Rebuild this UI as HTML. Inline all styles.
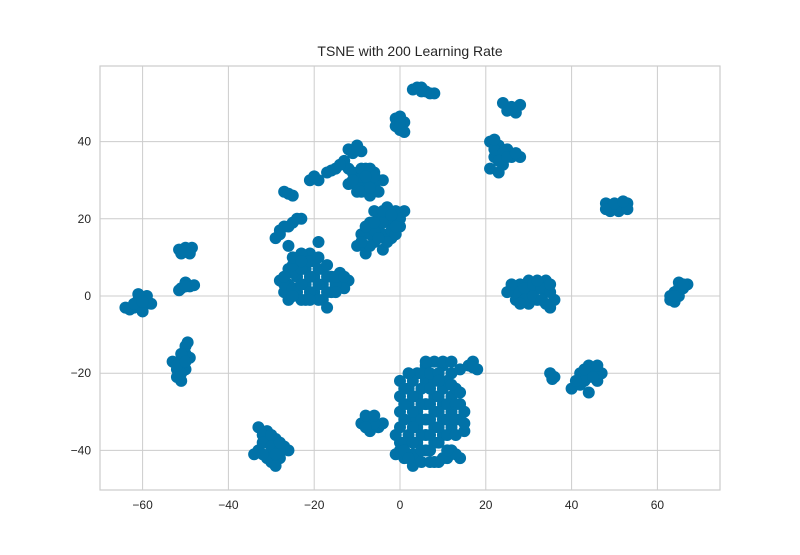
<!DOCTYPE html>
<html><head><meta charset="utf-8"><style>
body{margin:0;background:#fff}
svg text{font-family:"Liberation Sans",sans-serif;fill:#262626}
</style></head><body>
<svg width="800" height="550" xmlns="http://www.w3.org/2000/svg">
<rect width="800" height="550" fill="#fff"/>
<text x="410" y="56" font-size="14" text-anchor="middle">TSNE with 200 Learning Rate</text>
<g id="grid"></g>
<g id="pts"></g>
<rect x="100" y="66" width="620" height="424" fill="none" stroke="#ccc" stroke-width="1.2"/>
<g id="ticks"></g>
</svg>
<script>
const xTicks=[-60,-40,-20,0,20,40,60];
const yTicks=[-40,-20,0,20,40];
const points=[
[-64,-3],[-62,-3],[-60,-3],[-58,-2],[-61,-1],[-59,0],[-61,0.5],[-63,-3.5],[-60,-4],[-59,-1.5],[-62,-2],[-60,-1.5],
[-51,11],[-49,11],[-50,12.5],[-51.5,12],[-48.5,12.5],[-50,11.5],
[-51,2],[-49,2.5],[-50,3.5],[-48,2.8],[-51.5,1.5],[-50,2.5],
[-52,-21],[-52,-19],[-51,-17],[-50,-15],[-50,-13],[-49,-16],[-53,-17],[-51,-22],[-50,-19],[-49.5,-12],[-51,-20],[-51,-15],[-52,-18],[-50,-17],
[-33,-34],[-31,-35],[-29,-37],[-31,-38],[-33,-40],[-30,-41],[-28,-42],[-30,-43],[-27,-39],[-26,-40],[-34,-41],[-29,-44],[-32,-36],[-32,-38],[-30,-39],[-28,-40],[-31,-42],[-29,-41],[-32,-41],[-30,-36],[-28,-38],
[-28,4],[-27,1],[-26,-1],[-26,3],[-26,7],[-24,5],[-24,1],[-24,9],[-22,-1],[-22,3],[-22,7],[-20,1],[-20,5],[-20,9],[-18,-1],[-18,3],[-18,7],[-16,1],[-16,5],[-14,3],[-14,6],[-12,4],[-13,2],[-17,-3],[-21,11],[-23,11],[-19,14],
[-27,3],[-25,2],[-25,6],[-23,3],[-23,7],[-21,5],[-21,1],[-19,3],[-19,7],[-17,5],[-17,1],[-15,3],[-15,5],[-23,-1],[-19,-1],[-21,9],[-25,8],[-27,5],[-13,5],[-25,10],[-23,9],[-19,10],[-21,-1],[-25,0],[-15,1],[-17,8],
[-29,15],[-28,16],[-27,18],[-25,19],[-23,20],[-26,13],[-28,17],[-26,18],[-24,20],
[-27,27],[-25,26],[-21,30],[-19,30],[-17,32],[-15,33],[-13,35],[-12,33],[-26,26.5],[-20,31],[-16,32.5],[-14,34],
[-12,38],[-10,39],[-9,37.5],[-11,37],[-10,38],
[-12,29],[-10,31],[-8,33],[-6,32],[-8,29],[-6,28],[-4,30],[-10,27],[-7,26],[-11,32],
[-10,29],[-9,31],[-7,30],[-5,30],[-9,33],[-7,33],[-11,30],[-9,27],[-5,27],[-6,31],[-8,31],[-7,28],
[-10,13],[-9,16],[-7,19],[-5,21],[-3,23],[-1,22],[-2,19],[-4,16],[-6,14],[-8,11],[-2,15],[0,18],[-4,12],[1,22],[-1,21],
[-8,13],[-7,16],[-5,18],[-3,20],[-6,17],[-4,19],[-3,14],[-8,18],[-2,17],[-1,16],[-6,22],[-7,13],[-9,14],[0,20],[-3,22],[-5,15],[-4,22],[-1,18],[-2,21],[-6,19],
[-1,46],[1,45],[0,43],[1,42.5],[-1,44],[0,45],[0,46.5],
[3,53.5],[5,53],[7,52.5],[8,52.5],[4,54],[6,53],[5,54],
[-9,-33],[-7,-32],[-5,-34],[-7,-35],[-4,-33],[-8,-31],[-6,-33],[-8,-34],[-6,-31],
[0,-22],[0,-26],[0,-30],[0,-34],[0,-38],[0,-40],[1,-42],[3,-44],[2,-36],[2,-28],[2,-24],[4,-20],[4,-26],[4,-30],[4,-34],[4,-38],[4,-42],[6,-18],[6,-22],[6,-28],[6,-32],[6,-36],[6,-40],[8,-17],[8,-22],[8,-26],[8,-30],[8,-34],[8,-38],[8,-43],[10,-18],[10,-24],[10,-28],[10,-32],[10,-36],[10,-42],[12,-20],[12,-26],[12,-30],[12,-34],[12,-40],[14,-28],[14,-32],[14,-42],[15,-30],[-1,-36],[3,-32],
[1,-24],[1,-28],[1,-32],[1,-38],[3,-22],[3,-26],[3,-30],[3,-34],[3,-38],[3,-41],[5,-20],[5,-24],[5,-28],[5,-32],[5,-36],[5,-40],[7,-20],[7,-24],[7,-28],[7,-32],[7,-36],[7,-40],[9,-20],[9,-26],[9,-30],[9,-34],[9,-38],[11,-22],[11,-28],[11,-32],[11,-36],[13,-24],[13,-28],[13,-32],[13,-36],[11,-42],[9,-43],[5,-43],[13,-41],[2,-20],[6,-17],[10,-17],[12,-17],[14,-19],[15,-35],[14,-25],[-1,-41],[1,-40],[2,-42],[7,-43],[11,-40],[9,-22],[12,-23],[15,-33],
[16,-18],[17,-17],[18,-19],[17,-18.5],
[21,40],[23,39],[25,38],[22,36],[24,34],[26,36],[28,36],[21,33],[23,32],[22,38],[24,37],[23,35],[25,36],[22,40.5],[27,37],
[24,50],[26,49],[28,49.5],[25,48],[27,47.5],[26,48.5],
[26,2],[28,0],[28,3],[30,1],[30,4],[32,2],[32,-1],[34,1],[34,4],[36,-1],[35,-3],[30,-2],[27,-1],
[27,1],[29,2],[31,3],[33,2],[35,1],[29,-1],[31,0],[33,-1],[35,3],[25,1],[26,3],[28,-2],[32,4],[34,-2],
[36,-21],[35,-20],[40,-24],[42,-23],[44,-21],[45,-19],[46,-22],[44,-18],[42,-20],[44,-25],[47,-20],[43,-22],[45,-21],[41,-22],[46,-18],[43,-19],[35.5,-21.5],
[48,24],[50,23],[52,23],[53,24],[51,22],[49,22],[48,22.5],[53,22.5],[50,24],[52,24.5],
[63,-1],[64,1],[66,2],[67,3],[65,3.5],[64,-1.5],[63,0],[65,0],[65,2],[66,3],[64,0]
];
const NS="http://www.w3.org/2000/svg";
function sx(v){return 400+v*4.29;}
function sy(v){return 296-v*3.86;}
const grid=document.getElementById('grid'),ticks=document.getElementById('ticks'),pts=document.getElementById('pts');
xTicks.forEach(t=>{
 const l=document.createElementNS(NS,'line');
 
 
 l.setAttribute('x1',sx(t));l.setAttribute('x2',sx(t));l.setAttribute('y1',66);l.setAttribute('y2',490);
 l.setAttribute('stroke','#ccc');grid.appendChild(l);
 const tx=document.createElementNS(NS,'text');
 
 
 tx.setAttribute('x',sx(t));tx.setAttribute('y',509);tx.setAttribute('font-size','12');tx.setAttribute('text-anchor','middle');
 tx.textContent=(t<0?'\u2212'+(-t):t);ticks.appendChild(tx);
});
yTicks.forEach(t=>{
 const l=document.createElementNS(NS,'line');
 
 
 l.setAttribute('x1',100);l.setAttribute('x2',720);l.setAttribute('y1',sy(t));l.setAttribute('y2',sy(t));
 l.setAttribute('stroke','#ccc');grid.appendChild(l);
 const tx=document.createElementNS(NS,'text');
 
 
 tx.setAttribute('x',91);tx.setAttribute('y',sy(t)+4);tx.setAttribute('font-size','12');tx.setAttribute('text-anchor','end');
 tx.textContent=(t<0?'\u2212'+(-t):t);ticks.appendChild(tx);
});
points.forEach(p=>{
 const c=document.createElementNS(NS,'circle');
 
 
 c.setAttribute('cx',sx(p[0]));c.setAttribute('cy',sy(p[1]));c.setAttribute('r',6);
 c.setAttribute('fill','#0172a8');pts.appendChild(c);
});
</script>
</body></html>
